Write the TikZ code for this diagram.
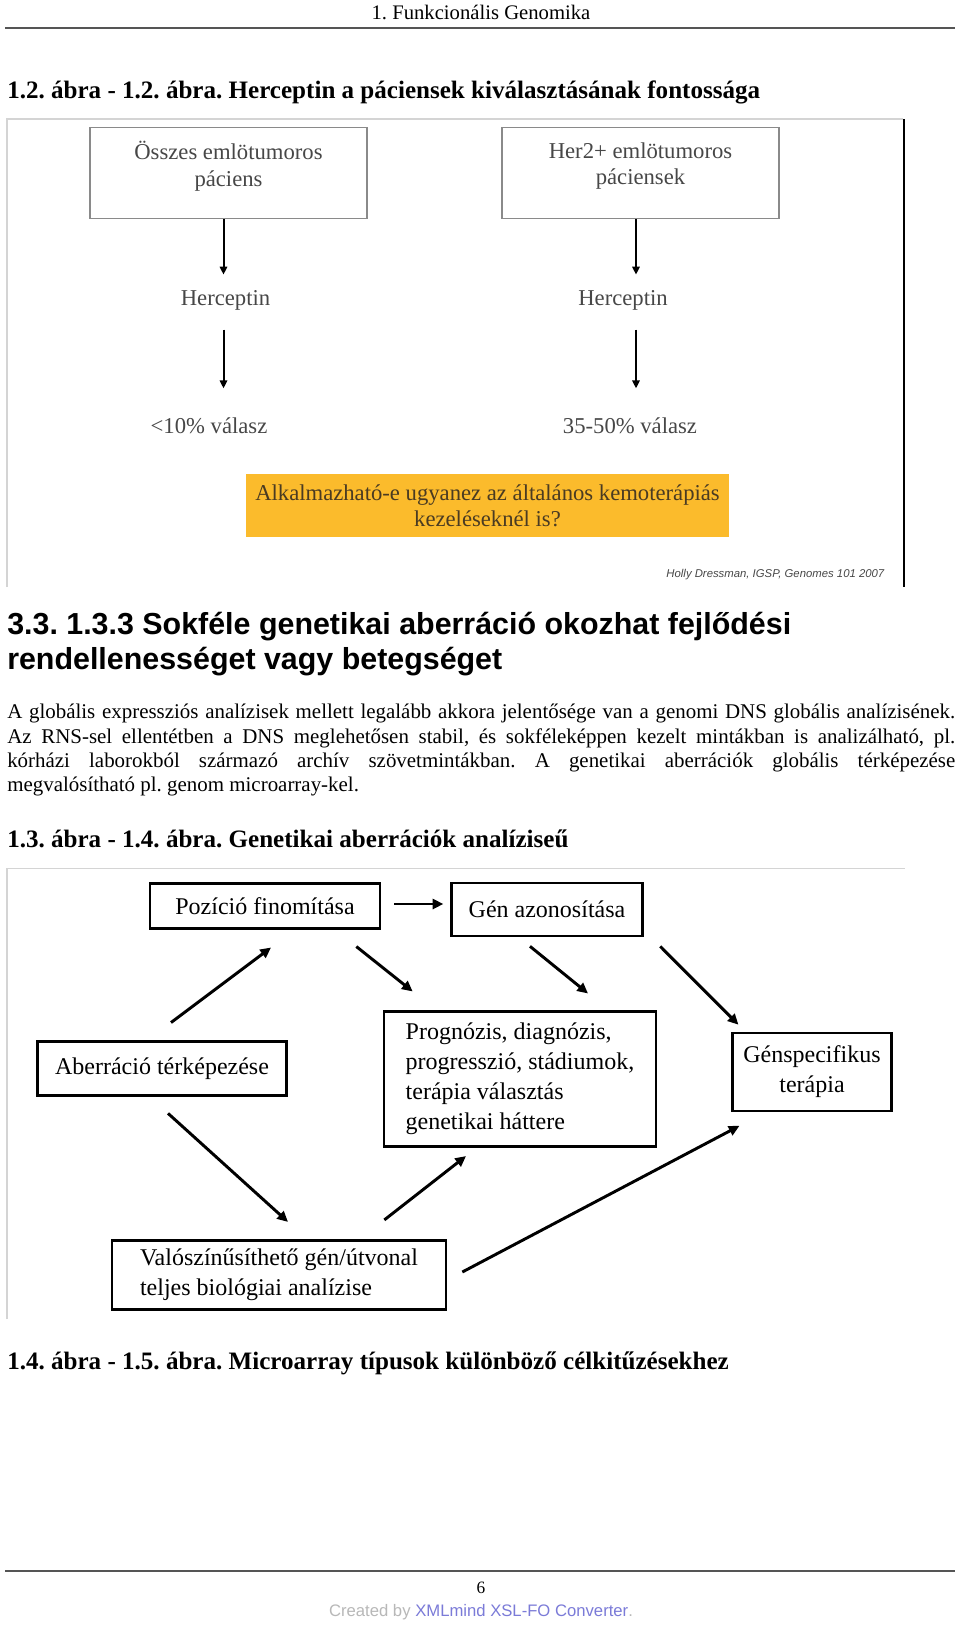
\documentclass[tikz,border=0pt]{standalone}
\usepackage{fontspec}
\setmainfont{Liberation Serif}
\newfontfamily\arialfont{Liberation Sans}
\usetikzlibrary{arrows.meta,calc}
\frenchspacing

\definecolor{FrameGray}{HTML}{D4D4D4}
\definecolor{SlideGray}{HTML}{8A8A8A}
\definecolor{SlideText}{HTML}{474747}
\definecolor{SlideYellow}{HTML}{FBBB2C}
\definecolor{QuestText}{HTML}{4A3B22}
\definecolor{RuleGray}{HTML}{555555}
\definecolor{CreditGray}{HTML}{B8B8B8}
\definecolor{CreditBlue}{HTML}{7B7BD8}

\begin{document}
\begin{tikzpicture}[x = 0.75pt, y = -0.75pt]
\tikzstyle{SlideBox}=[draw = SlideGray, line width = 1.1pt, inner sep = 0pt,
                      text = SlideText, align = center, text depth = 14pt,
                      font = \fontsize{17}{20}\selectfont]
\tikzstyle{SlideLabel}=[inner sep = 0pt, text height = 12pt, text depth = 4pt,
                        text = SlideText, font = \fontsize{17}{20}\selectfont]
\tikzstyle{SlideArrow}=[line width = 1.5pt, -{Triangle[length = 6pt, width = 5.5pt]}]
\tikzstyle{GenBox}=[draw, line width = 2pt, inner sep = 0pt,
                    font = \fontsize{18}{22.5}\selectfont]
\tikzstyle{GenArrow}=[line width = 2.2pt, -{Triangle[length = 8pt, width = 7.5pt]}]
\tikzstyle{Caption}=[anchor = west, inner sep = 0pt,
                     font = \bfseries\fontsize{18.8}{22}\selectfont]
\tikzstyle{Heading}=[anchor = west, inner sep = 0pt,
                     font = \arialfont\bfseries\fontsize{22.8}{26}\selectfont]
\tikzstyle{ParaLine}=[anchor = west, inner sep = 0pt,
                      font = \fontsize{15.7}{18}\selectfont]

\useasboundingbox (0,0) rectangle (960,1625);
\fill[white] (0,0) rectangle (960,1625);

% page header
\node[inner sep = 0pt, font = \fontsize{15.5}{18}\selectfont] (head) at (481,12.5) {1. Funkcionális Genomika};
\draw[RuleGray, line width = 1.2pt] (5,28) -- (955,28);

\node[Caption] (cap1) at (7,92) {1.2. ábra - 1.2. ábra. Herceptin a páciensek kiválasztásának fontossága};

% first figure
\draw[FrameGray, line width = 0.8pt] (7,587) -- (7,119) -- (903,119);
\draw[line width = 2pt] (904,119) -- (904,587);

\node[SlideBox, minimum width = 207.75pt, minimum height = 68.4pt] (all) at (228.5,173) {Összes emlötumoros\\páciens};
\node[SlideBox, minimum width = 207.75pt, minimum height = 68.4pt] (her) at (640.5,173) {Her2+ emlötumoros\\páciensek};

\node[SlideLabel] (drugA) at (225.5,300.5) {Herceptin};
\node[SlideLabel] (drugB) at (623,300.5) {Herceptin};
\node[SlideLabel] (respA) at (209,428) {<10\% válasz};
\node[SlideLabel] (respB) at (630,428) {35-50\% válasz};

\draw[SlideArrow, shorten > = 11.2pt] (all.south -| 223.5,0) -- (drugA.north -| 223.5,0);
\draw[SlideArrow, shorten < = 13.7pt, shorten > = 21.5pt] (drugA.south -| 223.5,0) -- (respA.north -| 223.5,0);
\draw[SlideArrow, shorten > = 11.2pt] (her.south -| 636,0) -- (drugB.north -| 636,0);
\draw[SlideArrow, shorten < = 13.7pt, shorten > = 21.5pt] (drugB.south -| 636,0) -- (respB.north -| 636,0);

\node[fill = SlideYellow, inner sep = 0pt, minimum width = 362pt, minimum height = 47.6pt,
      align = center, text = QuestText, font = \fontsize{17}{19.5}\selectfont] (quest) at (487.5,505.3)
  {Alkalmazható-e ugyanez az általános kemoterápiás\\kezeléseknél is?};

\node[anchor = east, inner sep = 0pt, text = SlideText,
      font = \arialfont\itshape\fontsize{8.5}{10}\selectfont] (credit) at (884.5,575)
  {Holly Dressman, IGSP, Genomes 101 2007};

% section text
\node[Heading] (sec1) at (7,627) {3.3. 1.3.3 Sokféle genetikai aberráció okozhat fejlődési};
\node[Heading] (sec2) at (7,662) {rendellenességet vagy betegséget};

\node[ParaLine] (par1) at (7,713) {\makebox[711pt][s]{A globális expressziós analízisek mellett legalább akkora jelentősége van a genomi DNS globális analízisének.}};
\node[ParaLine] (par2) at (7,738) {\makebox[711pt][s]{Az RNS-sel ellentétben a DNS meglehetősen stabil, és sokféleképpen kezelt mintákban is analizálható, pl.}};
\node[ParaLine] (par3) at (7,762) {\makebox[711pt][s]{kórházi laborokból származó archív szövetmintákban. A genetikai aberrációk globális térképezése}};
\node[ParaLine] (par4) at (7,786) {megvalósítható pl. genom microarray-kel.};

\node[Caption] (cap2) at (7,839) {1.3. ábra - 1.4. ábra. Genetikai aberrációk analíziseű};

% second figure
\draw[FrameGray, line width = 0.8pt] (7,1319) -- (7,868.5) -- (905,868.5);

\node[GenBox, minimum width = 172.5pt, minimum height = 34.2pt] (refine) at (265,906) {Pozíció finomítása};
\node[GenBox, minimum width = 143pt, minimum height = 39.75pt] (gene) at (547,909.5) {Gén azonosítása};
\node[GenBox, minimum width = 187pt, minimum height = 40.5pt] (mapping) at (162,1068.5) {Aberráció térképezése};
\node[GenBox, minimum width = 204pt, minimum height = 101.6pt, align = left] (prog) at (520,1079)
  {Prognózis, diagnózis,\\progresszió, stádiumok,\\terápia választás\\genetikai háttere};
\node[GenBox, minimum width = 119.6pt, minimum height = 58.5pt, align = center] (therapy) at (812,1072)
  {Génspecifikus\\terápia};
\node[GenBox, minimum width = 250.5pt, minimum height = 51.4pt, align = left] (bio) at (279,1275)
  {Valószínűsíthető gén/útvonal\\teljes biológiai analízise};

\draw[GenArrow] ($(refine.east)+(13,-2)$) -- ($(gene.west)+(-7,-5.5)$);
\draw[GenArrow] ($(mapping.north)+(9,-17.6)$) -- ($(refine.south)+(6,17.4)$);
\draw[GenArrow] ($(refine.south east)+(-25,16.4)$) -- ($(prog.north west)+(30,-18.5)$);
\draw[GenArrow] ($(gene.south)+(-17,9)$) -- ($(prog.north)+(68,-16.5)$);
\draw[GenArrow] ($(gene.south east)+(16.5,9)$) -- ($(therapy.north west)+(7.5,-7)$);
\draw[GenArrow] ($(mapping.south)+(6,16.5)$) -- ($(bio.north)+(9,-17.5)$);
\draw[GenArrow] ($(bio.north east)+(-63,-19.5)$) -- ($(prog.south)+(-54,8)$);
\draw[GenArrow] ($(bio.east)+(15,-3)$) -- ($(therapy.south west)+(8.5,13.5)$);

\node[Caption] (cap3) at (7,1363) {1.4. ábra - 1.5. ábra. Microarray típusok különböző célkitűzésekhez};

% page footer
\draw[RuleGray, line width = 1.5pt] (5,1571) -- (955,1571);
\node[inner sep = 0pt, font = \fontsize{13}{15}\selectfont] (page) at (481,1588) {6};
\node[inner sep = 0pt, font = \arialfont\fontsize{12.5}{15}\selectfont] (made) at (481,1612.5)
  {{\color{CreditGray}Created by }{\color{CreditBlue}XMLmind XSL-FO Converter}{\color{CreditGray}.}};
\end{tikzpicture}
\end{document}
